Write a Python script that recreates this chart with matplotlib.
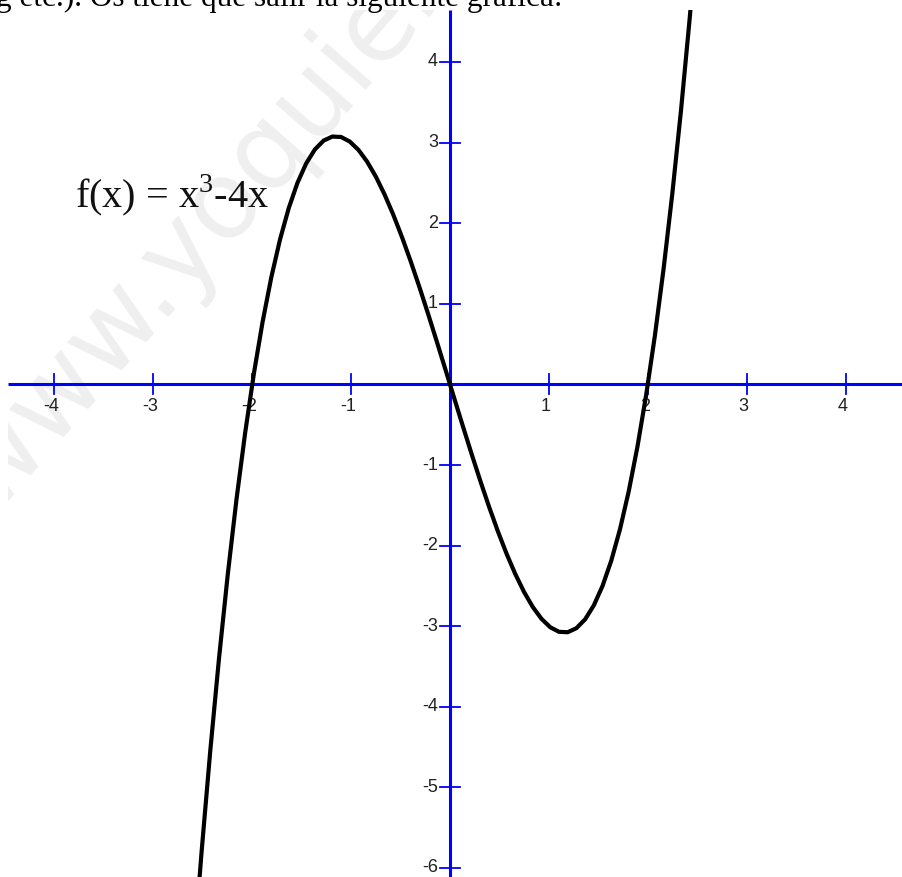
import numpy as np
import matplotlib
matplotlib.use("Agg")
from matplotlib import pyplot as plt

plt.rcParams["mathtext.fontset"] = "custom"
plt.rcParams["mathtext.rm"] = "Liberation Serif"

# f(x) = x^3 - 4x, sampled over the visible part of the curve
coef = [1, 0, -4, 0]
x_start, x_end = -2.6, 2.6
n_samples = 60

xticks = [-4, -3, -2, -1, 1, 2, 3, 4]
yticks = [-6, -5, -4, -3, -2, -1, 1, 2, 3, 4]

W, H = 902, 877
px_left, px_top = 8, 10          # where the picture starts inside the page
x0_px, y0_px = 450, 384.4        # origin in pixels
sx, sy = 98.9, 80.6              # pixels per unit


def px(x, y):
    # page pixels -> data coords
    return (x - x0_px) / sx, (y0_px - y) / sy


fig = plt.figure(figsize=(W / 100, H / 100), dpi=100)
fig.patch.set_facecolor("white")
ax = fig.add_axes([px_left / W, 0, (W - px_left) / W, (H - px_top) / H])
ax.set_facecolor("#fcfcfc")
ax.set_xlim((px_left - x0_px) / sx, (W - x0_px) / sx)
ax.set_ylim((y0_px - H) / sy, (y0_px - px_top) / sy)
ax.axis("off")

# watermark
wx, wy = px(-8, 515)
ax.text(wx, wy, "www.yoquieroaprobar.es", rotation=49, fontsize=78,
        color="#efefef", ha="left", va="baseline", family="DejaVu Sans",
        zorder=0, rotation_mode="anchor", clip_on=True)

blue = "#0000ff"
xl = ax.get_xlim()
yl = ax.get_ylim()
ax.plot(xl, [0, 0], color=blue, lw=2.2, zorder=2, solid_capstyle="butt")
ax.plot([0, 0], yl, color=blue, lw=2.2, zorder=2, solid_capstyle="butt")

tick_half_x = 10 / sx
tick_half_y = 10 / sy
for t in xticks:
    ax.plot([t, t], [-tick_half_y, tick_half_y], color=blue, lw=1.3, zorder=2)
    ax.text(t - 0.03, -14 / sy, str(t), ha="center", va="top", fontsize=13,
            family="Liberation Sans", color="#222222", zorder=3)
for t in yticks:
    ax.plot([-tick_half_x, tick_half_x], [t, t], color=blue, lw=1.3, zorder=2)
    ax.text(-12 / sx, t, str(t), ha="right", va="center", fontsize=13,
            family="Liberation Sans", color="#222222", zorder=3)

xs = np.linspace(x_start, x_end, n_samples)
ys = np.polyval(coef, xs)
ax.plot(xs, ys, color="black", lw=3.0, zorder=4, solid_joinstyle="miter")

lx, ly = px(75, 207)
ax.text(lx, ly, r"f(x) = x$^{\mathrm{3}}$-4x", ha="left", va="baseline",
        fontsize=29, family="Liberation Serif", color="#111111", zorder=5)

fig.text(-4 / W, 1 - 6 / H, "g etc.). Os tiene que salir la siguiente gráfica:",
         ha="left", va="baseline", fontsize=22.5, family="Liberation Serif",
         color="black")

fig.savefig("out.png", dpi=100, facecolor="white")
